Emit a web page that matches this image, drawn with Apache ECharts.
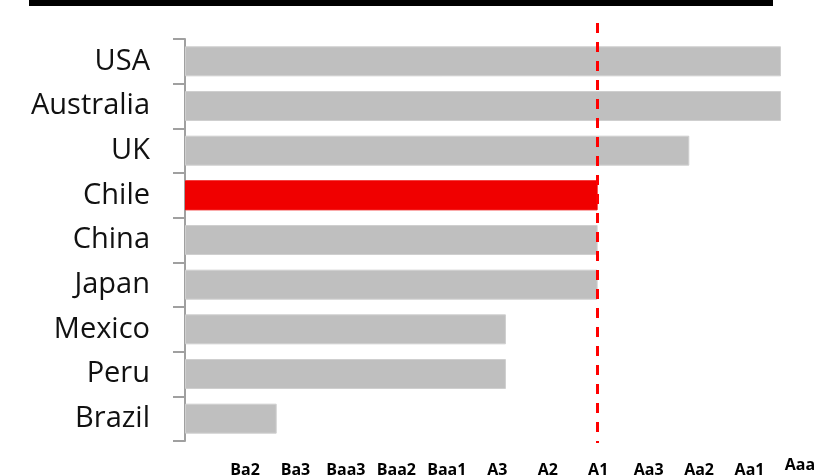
<!DOCTYPE html>
<html>
<head>
<meta charset="utf-8">
<script src="https://cdn.jsdelivr.net/npm/echarts@6/dist/echarts.min.js"></script>
<style>
  html, body { margin: 0; padding: 0; background: #fff; }
  #app { width: 821px; height: 476px; }
</style>
</head>
<body>
<div id="app"></div>
<script>
// 国家（从上到下）
const countries = ['USA', 'Australia', 'UK', 'Chile', 'China', 'Japan', 'Mexico', 'Peru', 'Brazil'];
// 评级档位（数值）
const ratingValues = [13, 13, 11, 9, 9, 9, 7, 7, 2];
// 高亮的国家
const highlight = 'Chile';
// 参考线位置（A1）
const refValue = 9;
// 底部评级标签
const ratingLabels = ['Ba2', 'Ba3', 'Baa3', 'Baa2', 'Baa1', 'A3', 'A2', 'A1', 'Aa3', 'Aa2', 'Aa1', 'Aaa'];

const chart = echarts.init(document.getElementById('app'));

const barData = countries.map(function(c, i) {
    if (c === highlight) {
        return { value: ratingValues[i], itemStyle: { color: '#f00000', borderColor: '#f00000' } };
    }
    return ratingValues[i];
});

const labelData = ratingLabels.map(function(l) {
    if (l === 'Aaa') {
        return { value: l, textStyle: { padding: [-5, 0, 0, 0] } };
    }
    return l;
});

chart.setOption({
    animation: false,
    backgroundColor: '#fff',
    graphic: [{
        type: 'rect',
        shape: { x: 29, y: 0, width: 744, height: 6 },
        style: { fill: '#000' }
    }],
    grid: [
        { left: 185, right: 40, top: 39, bottom: 35 },
        { left: 245, right: 21, top: 459, height: 1 }
    ],
    xAxis: [{
        gridIndex: 0,
        type: 'value',
        min: 0,
        max: 13,
        show: false
    }, {
        gridIndex: 1,
        type: 'category',
        boundaryGap: false,
        data: labelData,
        axisLine: { show: false },
        axisTick: { show: false },
        axisLabel: {
            interval: 0,
            margin: 3,
            color: '#000',
            fontFamily: 'Open Sans',
            fontWeight: 'bold',
            fontSize: 16
        }
    }],
    yAxis: [{
        gridIndex: 0,
        type: 'category',
        inverse: true,
        data: countries,
        axisLine: { show: true, lineStyle: { color: '#a0a0a0', width: 2 } },
        axisTick: { show: true, length: 12, lineStyle: { color: '#a0a0a0', width: 2 } },
        axisLabel: {
            margin: 35,
            color: '#111',
            fontFamily: 'Open Sans',
            fontSize: 29
        }
    }, {
        gridIndex: 1,
        type: 'value',
        show: false
    }],
    series: [{
        type: 'bar',
        xAxisIndex: 0,
        yAxisIndex: 0,
        data: barData,
        barWidth: 30,
        itemStyle: { color: '#bfbfbf', borderColor: '#cfcfcf', borderWidth: 1 },
        markLine: {
            silent: true,
            symbol: 'none',
            label: { show: false },
            lineStyle: { color: '#ff0000', width: 3, type: [10, 9] },
            data: [[
                { coord: [refValue, countries[0]], y: 23 },
                { coord: [refValue, countries[countries.length - 1]], y: 443 }
            ]]
        }
    }]
});
</script>
</body>
</html>
